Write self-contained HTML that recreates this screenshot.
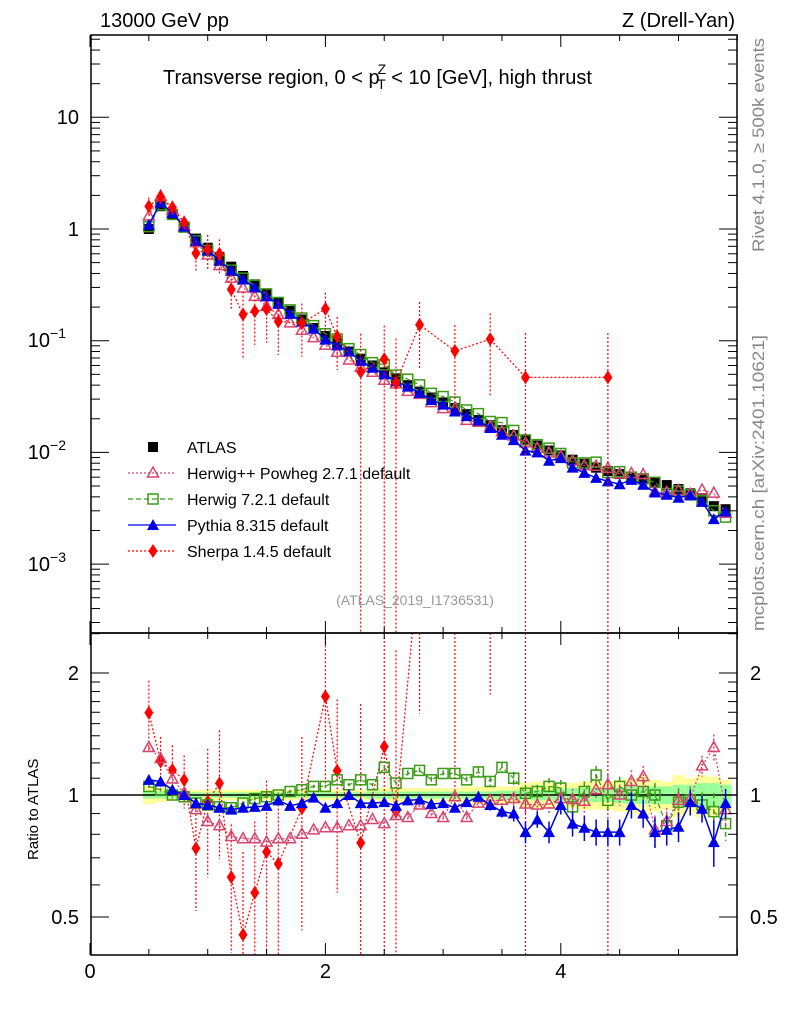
<!DOCTYPE html>
<html><head><meta charset="utf-8"><style>
body{margin:0;background:#fff}
svg{display:block;font-family:"Liberation Sans",Arial,sans-serif}
</style></head><body>
<svg id="c" width="786" height="1024" viewBox="0 0 786 1024" xmlns="http://www.w3.org/2000/svg">
<g id="g"></g>
</svg>
<script>
const xvals=[0.5,0.6,0.7,0.8,0.9,1.0,1.1,1.2,1.3,1.4,1.5,1.6,1.7,1.8,1.9,2.0,2.1,2.2,2.3,2.4,2.5,2.6,2.7,2.8,2.9,3.0,3.1,3.2,3.3,3.4,3.5,3.6,3.7,3.8,3.9,4.0,4.1,4.2,4.3,4.4,4.5,4.6,4.7,4.8,4.9,5.0,5.1,5.2,5.3,5.4];
const atlas=[1.0,1.6,1.35,1.05,0.82,0.68,0.56,0.46,0.38,0.32,0.265,0.22,0.185,0.155,0.13,0.11,0.095,0.08,0.069,0.06,0.052,0.046,0.04,0.035,0.031,0.028,0.025,0.022,0.0195,0.0175,0.0158,0.0143,0.0128,0.0115,0.0104,0.0094,0.0086,0.0079,0.0073,0.0068,0.0064,0.006,0.0057,0.0054,0.0051,0.0047,0.0043,0.0039,0.0033,0.0031];
const bandYellow=[0.05,0.04,0.03,0.03,0.03,0.03,0.03,0.03,0.03,0.03,0.03,0.03,0.03,0.03,0.03,0.03,0.03,0.03,0.03,0.03,0.04,0.04,0.04,0.04,0.04,0.04,0.04,0.05,0.05,0.05,0.05,0.05,0.07,0.08,0.07,0.06,0.07,0.08,0.08,0.08,0.09,0.1,0.12,0.09,0.08,0.12,0.1,0.12,0.11,0.09];
const bandGreen=[0.02,0.02,0.02,0.015,0.015,0.015,0.015,0.015,0.015,0.015,0.015,0.015,0.015,0.015,0.015,0.015,0.015,0.015,0.015,0.02,0.02,0.02,0.02,0.02,0.02,0.02,0.02,0.02,0.02,0.02,0.025,0.025,0.03,0.03,0.03,0.035,0.04,0.04,0.04,0.04,0.045,0.05,0.05,0.05,0.05,0.06,0.06,0.07,0.07,0.06];
const herwigpp=[1.31,1.23,1.095,1.01,0.92,0.86,0.84,0.79,0.78,0.78,0.765,0.78,0.78,0.80,0.82,0.83,0.83,0.84,0.84,0.87,0.85,0.89,0.88,0.945,0.90,0.88,0.99,0.88,0.955,0.97,0.97,0.98,0.95,0.945,0.95,0.98,0.975,0.965,1.03,1.06,1.0,1.08,1.11,0.82,0.86,0.97,0.98,1.18,1.31,0.92];
const herwig7=[1.05,1.03,1.0,0.99,0.955,0.945,0.935,0.93,0.955,0.98,0.99,1.0,1.02,1.03,1.05,1.05,1.09,1.06,1.09,1.06,1.17,1.07,1.13,1.15,1.09,1.13,1.13,1.09,1.14,1.08,1.17,1.1,1.01,1.02,1.05,1.04,0.935,1.02,1.12,0.97,1.05,1.0,1.02,1.0,0.84,0.96,0.97,0.945,0.91,0.85];
const pythia=[1.09,1.08,1.03,1.0,0.955,0.945,0.93,0.92,0.93,0.935,0.94,0.97,0.94,0.955,0.985,0.93,0.955,1.0,0.955,0.955,0.96,0.94,0.97,0.975,0.95,0.955,0.93,0.96,0.99,0.945,0.91,0.90,0.81,0.87,0.81,0.945,0.85,0.83,0.81,0.81,0.81,0.945,0.90,0.81,0.82,0.835,0.96,0.925,0.765,0.955];
const pythiaErr=[0.01,0.01,0.01,0.01,0.01,0.01,0.01,0.01,0.01,0.01,0.01,0.01,0.01,0.01,0.01,0.01,0.01,0.01,0.01,0.01,0.01,0.01,0.02,0.02,0.02,0.02,0.02,0.02,0.03,0.03,0.03,0.04,0.05,0.04,0.05,0.05,0.06,0.06,0.06,0.06,0.06,0.07,0.07,0.07,0.07,0.07,0.07,0.07,0.1,0.08];
const sherpaIdx=[0,1,2,3,4,5,6,7,8,9,10,11,13,15,16,18,20,21,23,26,29,32,39];
const sherpaRatio=[1.596,1.21,1.153,1.089,0.739,0.963,1.069,0.627,0.452,0.574,0.724,0.676,0.927,1.75,1.148,0.762,1.316,0.91,3.97,3.24,5.9,3.67,6.9];
const sherpaErr=[0.2,0.15,0.15,0.15,0.3,0.35,0.35,0.35,0.6,0.5,0.5,0.5,0.5,0.4,0.5,1.2,1.0,1.5,0.6,0.7,0.7,1.5,1.5];

const NS="http://www.w3.org/2000/svg";
const G=document.getElementById('g');
function el(t,a,p){const e=document.createElementNS(NS,t);for(const k in a)e.setAttribute(k,a[k]);(p||G).appendChild(e);return e;}
const L=91,Rr=737,T=35,MB=633,RB=955;
const X=v=>90+117.7*v;
const Y=v=>229-111.7*Math.log10(v);
const RY=r=>795-405.3*Math.log10(r);
const clampM=y=>Math.max(T,Math.min(MB,y));
const clampR=y=>Math.max(MB,Math.min(RB,y));

const defs=el('defs',{});
const cm=el('clipPath',{id:'cm'},defs);el('rect',{x:L,y:T,width:Rr-L,height:MB-T},cm);
const cr=el('clipPath',{id:'cr'},defs);el('rect',{x:L,y:MB,width:Rr-L,height:RB-MB},cr);
const gm=el('g',{'clip-path':'url(#cm)'});


const gr=el('g',{'clip-path':'url(#cr)'});



xvals.forEach((v,i)=>{
  const x0=X(v-0.05),x1=X(v+0.05);
  const b=el('rect',{x:x0,y:RY(1+bandYellow[i]),width:x1-x0,height:RY(1-bandYellow[i])-RY(1+bandYellow[i]),fill:'#ffff99'},gr);
  
  
  const c=el('rect',{x:x0,y:RY(1+bandGreen[i]),width:x1-x0,height:RY(1-bandGreen[i])-RY(1+bandGreen[i]),fill:'#99ff99'},gr);
  
  
});
el('line',{x1:L,x2:Rr,y1:RY(1),y2:RY(1),stroke:'#000','stroke-width':1.5},gr);

function marker(par,type,x,y,col){
  let m;
  if(type==='sq') m=el('rect',{x:x-5,y:y-5,width:10,height:10,fill:'#000'},par);
  else if(type==='osq') m=el('rect',{x:x-5,y:y-5,width:10,height:10,fill:'none',stroke:col,'stroke-width':1.5},par);
  else if(type==='otri') m=el('path',{d:`M${x},${y-6}L${x+5.5},${y+4}L${x-5.5},${y+4}Z`,fill:'none',stroke:col,'stroke-width':1.5},par);
  else if(type==='tri') m=el('path',{d:`M${x},${y-6}L${x+6},${y+5}L${x-6},${y+5}Z`,fill:col},par);
  else m=el('path',{d:`M${x},${y-7}L${x+4.5},${y}L${x},${y+7}L${x-4.5},${y}Z`,fill:col},par);
  return m;
}

function drawSeries(par,ys,type,col,dash,width,name,errs,isRatio){
  const clamp=isRatio?clampR:clampM;
  const pts=ys.map((y,i)=>[X(xvals[i]),y]);
  const pl=el('polyline',{points:pts.map(p=>p[0]+','+p[1]).join(' '),fill:'none',stroke:col,'stroke-width':width,'stroke-dasharray':dash},par);
  
  
  pts.forEach((p,i)=>{
    if(errs){el('line',{x1:p[0],x2:p[0],y1:clamp(errs[i][0]),y2:clamp(errs[i][1]),stroke:col,'stroke-width':1.5,'stroke-dasharray':dash},par);}
    const m=marker(par,type,p[0],p[1],col);
    
    
  });
}

xvals.forEach((v,i)=>{
  const m=marker(gm,'sq',X(v),Y(atlas[i]),'#000');
  
  
});
drawSeries(gm,herwig7.map((r,i)=>Y(atlas[i]*r)),'osq','#3a9a14','5,3',1.2,'herwig7',null,false);
drawSeries(gm,herwigpp.map((r,i)=>Y(atlas[i]*r)),'otri','#d6456f','2,2',1.2,'herwigpp',null,false);
drawSeries(gm,pythia.map((r,i)=>Y(atlas[i]*r)),'tri','#0000e6','',1.5,'pythia',null,false);
(function(){
  const ys=sherpaIdx.map((k,j)=>Y(atlas[k]*sherpaRatio[j]));
  const pts=sherpaIdx.map((k,j)=>[X(xvals[k]),ys[j]]);
  const pl=el('polyline',{points:pts.map(p=>p.join(',')).join(' '),fill:'none',stroke:'#ff0000','stroke-width':1.2,'stroke-dasharray':'2,2'},gm);
  
  
  pts.forEach((p,j)=>{
    const v=atlas[sherpaIdx[j]]*sherpaRatio[j],e=sherpaErr[j];
    const lo=v*(1-e)>0?Y(v*(1-e)):MB;
    el('line',{x1:p[0],x2:p[0],y1:clampM(Y(v*(1+e))),y2:clampM(lo),stroke:'#ff0000','stroke-width':1.2,'stroke-dasharray':'2,2'},gm);
    const m=marker(gm,'dia',p[0],p[1],'#ff0000');
    
    
  });
  const rpts=sherpaIdx.map((k,j)=>[X(xvals[k]),RY(sherpaRatio[j])]);
  const rl=el('polyline',{points:rpts.map(p=>p.join(',')).join(' '),fill:'none',stroke:'#ff0000','stroke-width':1.2,'stroke-dasharray':'2,2'},gr);
  
  
  rpts.forEach((p,j)=>{
    const r=sherpaRatio[j],e=sherpaErr[j];
    const lo=r*(1-e)>0?RY(r*(1-e)):RB;
    el('line',{x1:p[0],x2:p[0],y1:clampR(RY(r*(1+e))),y2:clampR(lo),stroke:'#ff0000','stroke-width':1.2,'stroke-dasharray':'2,2'},gr);
    const m=marker(gr,'dia',p[0],p[1],'#ff0000');
    
    
  });
})();
drawSeries(gr,herwig7.map(r=>RY(r)),'osq','#3a9a14','5,3',1.2,'herwig7-ratio',herwig7.map((r,i)=>[RY(r+pythiaErr[i]),RY(r-pythiaErr[i])]),true);
drawSeries(gr,herwigpp.map(r=>RY(r)),'otri','#d6456f','2,2',1.2,'herwigpp-ratio',herwigpp.map((r,i)=>[RY(r+pythiaErr[i]),RY(r-pythiaErr[i])]),true);
drawSeries(gr,pythia.map(r=>RY(r)),'tri','#0000e6','',1.5,'pythia-ratio',pythia.map((r,i)=>[RY(r+pythiaErr[i]),RY(r-pythiaErr[i])]),true);

el('rect',{x:L,y:T,width:Rr-L,height:MB-T,fill:'none',stroke:'#000','stroke-width':1.5});
el('rect',{x:L,y:MB,width:Rr-L,height:RB-MB,fill:'none',stroke:'#000','stroke-width':1.5});

for(let v=0;v<=5.5;v+=0.5){
  const x=X(v),maj=(Math.abs(v%2)<1e-6),len=maj?12:6;
  [[T,1],[MB,-1],[MB,1],[RB,-1]].forEach(([y,d])=>el('line',{x1:x,x2:x,y1:y,y2:y+d*len,stroke:'#000','stroke-width':1}));
}
function txt(s,x,y,attrs,name){const t=el('text',Object.assign({x:x,y:y,'font-size':20,fill:'#000'},attrs||{}));t.textContent=s;return t;}
const xticks=[0,2,4];
xticks.forEach(v=>txt(String(v),X(v),978,{'text-anchor':'middle'},'x-tick-label'));

for(let d=-4;d<=1;d++){
  for(let k=1;k<10;k++){
    const v=k*Math.pow(10,d),y=Y(v);
    if(y<T||y>MB)continue;
    const len=k===1?18:9;
    el('line',{x1:L,x2:L+len,y1:y,y2:y,stroke:'#000'});
    el('line',{x1:Rr,x2:Rr-len,y1:y,y2:y,stroke:'#000'});
  }
}
txt('10',79,124,{'text-anchor':'end'},'y-tick-10');
txt('1',79,236,{'text-anchor':'end'},'y-tick-1');
const ylab=[[-1,347],[-2,459],[-3,571]];
ylab.forEach(([e,y])=>{const t=txt('10',66,y,{'text-anchor':'end'},'y-tick-label');const s=el('tspan',{dy:-9,'font-size':14},t);s.textContent='\u2212'+(-e);});

[0.4,0.5,0.6,0.7,0.8,0.9,1,1.1,1.2,1.3,1.4,1.5,1.6,1.7,1.8,1.9,2,2.5].forEach(r=>{
  const y=RY(r);if(y<MB||y>RB)return;
  const len=(r===0.5||r===1||r===2)?18:9;
  el('line',{x1:L,x2:L+len,y1:y,y2:y,stroke:'#000'});
  el('line',{x1:Rr,x2:Rr-len,y1:y,y2:y,stroke:'#000'});
});
[['2',2],['1',1],['0.5',0.5]].forEach(([s,r])=>{txt(s,79,RY(r)+7,{'text-anchor':'end'},'ratio-tick-left');txt(s,750,RY(r)+7,{},'ratio-tick-right');});

txt('13000 GeV pp',100,27,{},'energy-label');
txt('Z (Drell-Yan)',735,27,{'text-anchor':'end'},'process-label');
const tt=txt('Transverse region, 0 < p',163,84,{},'plot-title');
const s1=el('tspan',{'font-size':14,dy:-10,dx:-2},tt);s1.textContent='Z';
const s2=el('tspan',{'font-size':14,dy:15,dx:-9},tt);s2.textContent='T';
const s3=el('tspan',{dy:-5},tt);s3.textContent=' < 10 [GeV], high thrust';
txt('Rivet 4.1.0, \u2265 500k events',764,252,{'font-size':17,fill:'#888',textLength:214,lengthAdjust:'spacingAndGlyphs',transform:'rotate(-90 764 252)'},'rivet-label');
txt('mcplots.cern.ch [arXiv:2401.10621]',764,631,{'font-size':17,fill:'#888',textLength:296,lengthAdjust:'spacingAndGlyphs',transform:'rotate(-90 764 631)'},'mcplots-label');
txt('(ATLAS_2019_I1736531)',415,605,{'font-size':14,fill:'#999','text-anchor':'middle'},'analysis-id');
txt('Ratio to ATLAS',38,860,{'font-size':15,transform:'rotate(-90 38 860)'},'ratio-y-title');

const legNames=['ATLAS','Herwig++ Powheg 2.7.1 default','Herwig 7.2.1 default','Pythia 8.315 default','Sherpa 1.4.5 default'];
const legTypes=['sq','otri','osq','tri','dia'];
const legCols=['#000','#d6456f','#3a9a14','#0000e6','#ff0000'];
const legDash=[null,'2,2','5,3','','2,2'];
legNames.forEach((n,i)=>{
  const y=447+26*i;
  if(legDash[i]!==null){const l=el('line',{x1:128,x2:176,y1:y,y2:y,stroke:legCols[i],'stroke-width':1.3,'stroke-dasharray':legDash[i]});}
  const m=marker(G,legTypes[i],153,y,legCols[i]);
  
  
  txt(n,187,y+6,{'font-size':16},'legend-entry');
});
</script>
</body></html>
